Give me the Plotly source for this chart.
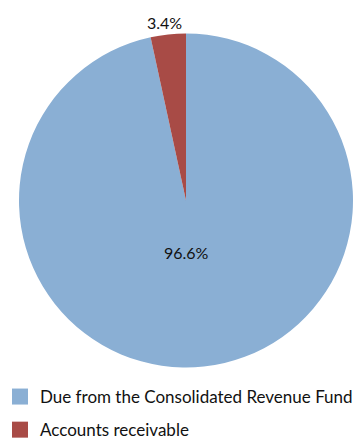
import math
import plotly.graph_objects as go

labels = ["Due from the Consolidated Revenue Fund", "Accounts receivable"]
values = [96.6, 3.4]
colors = ["#8AAFD4", "#A84B46"]

total = sum(values)
pct_text = [f"{v / total:.1%}" for v in values]

W, H = 360, 440
# pie geometry (pixels)
CX, CY, R = 186, 200.5, 167

fig = go.Figure(go.Pie(
    labels=labels,
    values=values,
    sort=False,
    direction="clockwise",
    rotation=0,
    marker=dict(colors=colors, line=dict(width=0)),
    textinfo="none",
    domain=dict(x=[(CX - R) / W, (CX + R) / W], y=[1 - (CY + R) / H, 1 - (CY - R) / H]),
    hoverinfo="label+percent",
    showlegend=False,
))

# legend entries (square swatches)
for i, (lab, col) in enumerate(zip(labels, colors)):
    fig.add_trace(go.Scatter(
        x=[None], y=[None], mode="markers", name=lab,
        marker=dict(symbol="square", size=20, color=col),
        legendgroup=f"g{i}", showlegend=True, hoverinfo="skip",
    ))

# percentage labels
# large slice: label below centre
fig.add_annotation(
    x=CX / W, y=1 - 253 / H, xref="paper", yref="paper",
    text=pct_text[0], showarrow=False,
    font=dict(family="Lato", size=16, color="#111111"),
)
# small slice: label just outside the rim at the slice mid-angle
mid = 2 * math.pi * (values[0] + values[1] / 2) / total
lx = CX + R * math.sin(mid)
ly = CY - R * math.cos(mid)
fig.add_annotation(
    x=lx / W, y=1 - ly / H, xref="paper", yref="paper",
    text=pct_text[1], showarrow=False, xanchor="center", yanchor="bottom",
    xshift=-4, yshift=0,
    font=dict(family="Lato", size=16, color="#111111"),
)

fig.update_layout(
    width=W, height=H,
    margin=dict(l=0, r=0, t=0, b=0, autoexpand=False),
    paper_bgcolor="white",
    plot_bgcolor="white",
    xaxis=dict(visible=False),
    yaxis=dict(visible=False),
    font=dict(family="Lato", size=17, color="#111111"),
    showlegend=True,
    legend=dict(x=0, y=1 - 379 / H, xanchor="left", yanchor="top",
                font=dict(family="Lato", size=17, color="#111111"),
                itemwidth=30, tracegroupgap=8, itemsizing="trace",
                bgcolor="rgba(0,0,0,0)"),
)

fig.write_html("out.html", config={"displayModeBar": False},
               post_script="document.body.style.margin='0';")
